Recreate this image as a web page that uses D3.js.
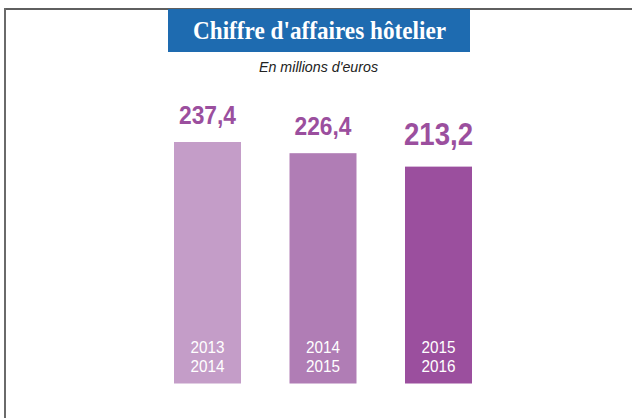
<!DOCTYPE html>
<html>
<head>
<meta charset="utf-8">
<script src="https://cdn.jsdelivr.net/npm/d3@7"></script>
<style>
  html, body { margin: 0; padding: 0; background: #fff; }
  svg { display: block; }
</style>
</head>
<body>
<svg id="chart" width="632" height="418"></svg>
<script>
// ---- data ----
const title = "Chiffre d'affaires hôtelier";
const subtitle = "En millions d'euros";
const seasons = [["2013", "2014"], ["2014", "2015"], ["2015", "2016"]];
const categories = ["2013-2014", "2014-2015", "2015-2016"];
const values = [237.4, 226.4, 213.2];
const barColors = ["#c49dc8", "#b07db5", "#9b4f9e"];

const svg = d3.select("#chart");
const W = 632, H = 418;

// frame lines (top and left)
svg.append("line").attr("x1", 4).attr("x2", W).attr("y1", 9).attr("y2", 9)
  .attr("stroke", "#5f5f5f").attr("stroke-width", 2);
svg.append("line").attr("x1", 5).attr("x2", 5).attr("y1", 8).attr("y2", H)
  .attr("stroke", "#6a6a6a").attr("stroke-width", 2);

// title box
svg.append("rect").attr("x", 168).attr("y", 9).attr("width", 302).attr("height", 43)
  .attr("fill", "#1e6bb0");
svg.append("text").attr("x", 319.5).attr("y", 39)
  .attr("text-anchor", "middle")
  .attr("font-family", "'Liberation Serif', 'DejaVu Serif', serif")
  .attr("font-weight", "bold").attr("font-size", 25)
  .attr("fill", "#fff")
  .attr("textLength", 253).attr("lengthAdjust", "spacingAndGlyphs")
  .text(title);

svg.append("text").attr("x", 318.5).attr("y", 72)
  .attr("text-anchor", "middle")
  .attr("font-family", "'Liberation Sans Narrow', 'Liberation Sans', Arial, sans-serif")
  .attr("font-style", "italic").attr("font-size", 14)
  .attr("fill", "#222")
  .attr("textLength", 119).attr("lengthAdjust", "spacingAndGlyphs")
  .text(subtitle);

// scales
const x = d3.scaleBand().domain(categories).range([174, 472])
  .paddingInner(0.42).paddingOuter(0);
const y = d3.scaleLinear().domain([0, 237.4]).range([383.5, 142]);

const fmt = v => d3.format(".1f")(v).replace(".", ",");
const last = values.length - 1;

const g = svg.append("g");
g.selectAll("rect.bar").data(values).join("rect")
  .attr("class", "bar")
  .attr("x", (d, i) => x(categories[i]))
  .attr("y", d => y(d))
  .attr("width", x.bandwidth())
  .attr("height", d => y(0) - y(d))
  .attr("fill", (d, i) => barColors[i]);

g.selectAll("text.val").data(values).join("text")
  .attr("class", "val")
  .attr("x", (d, i) => x(categories[i]) + x.bandwidth() / 2)
  .attr("y", (d, i) => y(d) - (i === last ? 22 : 18))
  .attr("text-anchor", "middle")
  .attr("font-family", "'Liberation Sans Narrow', 'Liberation Sans', Arial, sans-serif")
  .attr("font-weight", "bold")
  .attr("font-size", (d, i) => i === last ? 31 : 25)
  .attr("fill", "#9b4f9e")
  .attr("textLength", (d, i) => i === last ? 69 : 57)
  .attr("lengthAdjust", "spacingAndGlyphs")
  .text(d => fmt(d));

seasons.forEach((lines, i) => {
  lines.forEach((t, j) => {
    g.append("text")
      .attr("x", x(categories[i]) + x.bandwidth() / 2)
      .attr("y", y(0) - 30.5 + j * 19)
      .attr("text-anchor", "middle")
      .attr("font-family", "'Liberation Sans Narrow', 'Liberation Sans', Arial, sans-serif")
      .attr("font-size", 17)
      .attr("fill", "#fff")
      .attr("textLength", 34).attr("lengthAdjust", "spacingAndGlyphs")
      .text(t);
  });
});
</script>
</body>
</html>
